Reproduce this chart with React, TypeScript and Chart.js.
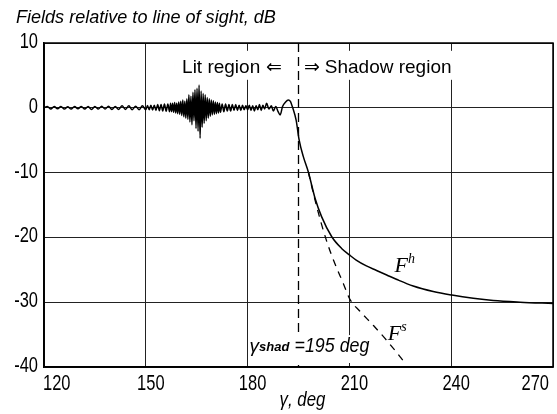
import React, { useEffect, useRef } from "react";
import { Chart, registerables } from "chart.js";

Chart.register(...registerables);

// ---------- data ----------
const xTickValues = [120, 150, 180, 210, 240, 270];
const yTickValues = [10, 0, -10, -20, -30, -40];
const shadowBoundary = 195;

// F^h in the lit region (ripple + interference)
const rippleAngles = [120, 121, 122, 123, 124, 125, 126, 127, 128, 129, 130, 131, 132, 133, 134, 135, 136, 137, 138, 139, 140, 141, 142, 143, 144, 145, 146, 147, 148, 149, 150];
const rippleValues = [0.0, 0.2, -0.2, 0.2, -0.15, 0.2, -0.2, 0.15, -0.2, 0.2, -0.15, 0.2, -0.2, 0.2, -0.25, 0.2, -0.2, 0.25, -0.2, 0.25, -0.25, 0.2, -0.25, 0.3, -0.25, 0.3, -0.3, 0.25, -0.3, 0.3, -0.3];

const growAngles = [150.5, 151, 151.5, 152, 152.5, 153, 153.5, 154, 154.5, 155, 155.5, 156, 156.5, 157];
const growValues = [0.35, -0.3, 0.4, -0.35, 0.4, -0.4, 0.5, -0.45, 0.5, -0.5, 0.6, -0.55, 0.6, -0.6];

const burstAngles = [157.3, 157.6, 157.9, 158.2, 158.5, 158.8, 159.1, 159.4, 159.7, 160, 160.3, 160.6, 160.9, 161.2, 161.5, 161.8, 162.1, 162.4, 162.7, 163, 163.3, 163.6, 163.9, 164.2, 164.5, 164.8, 165.1, 165.4, 165.7, 166, 166.3, 166.6, 166.9, 167.2, 167.5, 167.8, 168.1, 168.4, 168.7, 169, 169.3, 169.6, 169.9, 170.2, 170.5, 170.8, 171.1, 171.4, 171.7];
const burstValues = [0.7, -0.6, 0.7, -0.7, 0.8, -0.8, 0.7, -0.9, 0.9, -1.0, 1.0, -1.2, 1.2, -1.4, 1.0, -1.6, 1.4, -1.8, 2.0, -2.2, 1.8, -2.6, 2.4, -2.0, 2.8, -3.2, 3.0, -3.6, 3.5, -4.7, 2.6, -3.0, 2.2, -2.4, 2.0, -2.0, 1.6, -1.6, 1.4, -1.3, 1.2, -1.1, 1.1, -1.0, 0.9, -0.9, 0.8, -0.8, 0.7];

const tailAngles = [172, 172.5, 173, 173.5, 174, 174.5, 175, 175.5, 176, 176.5, 177, 177.5, 178, 178.5, 179, 179.5, 180, 180.5, 181, 181.5, 182, 182.5, 183, 183.5, 184, 184.5, 185, 185.6, 186.3, 187, 187.6, 188.3, 189, 189.6, 190.3, 191.2, 192, 192.6, 193.3, 194.3];
const tailValues = [-0.7, 0.6, -0.6, 0.6, -0.5, 0.5, -0.5, 0.5, -0.4, 0.5, -0.4, 0.4, -0.4, 0.4, -0.3, 0.3, -0.3, 0.4, -0.4, 0.3, -0.5, 0.3, -0.3, 0.5, -0.4, 0.4, -0.2, 0.7, -0.2, 0.3, -0.5, 0.2, -0.6, -1.1, 0.2, 0.9, 1.2, 1.0, 0.0, -1.9];

// F^h in the shadow region
const fhShadowAngles = [195.2, 196.4, 197.9, 199.9, 201.8, 204.8, 207.7, 210, 212, 215, 218, 221, 224, 228.8, 234.7, 240.2, 246.5, 252.4, 260.3, 270];
const fhShadowValues = [-5.0, -7.5, -9.9, -14.0, -16.8, -19.9, -21.7, -22.7, -23.5, -24.4, -25.1, -25.8, -26.5, -27.5, -28.35, -28.9, -29.4, -29.75, -30.0, -30.2];

// F^s (dashed)
const fsAngles = [197.9, 199.9, 201.8, 203.5, 205.3, 208.2, 210.2, 213.1, 217.1, 221, 224.9, 226.5];
const fsValues = [-9.9, -14.3, -18.0, -20.9, -23.5, -27.1, -29.6, -31.4, -33.6, -35.9, -38.4, -39.5];

// ---------- helpers ----------
const zip = (a: number[], b: number[]) => a.map((v, i) => ({ x: v, y: b[i] }));

const fhData = [
  ...zip(rippleAngles, rippleValues),
  ...zip(growAngles, growValues),
  ...zip(burstAngles, burstValues),
  ...zip(tailAngles, tailValues),
  ...zip(fhShadowAngles, fhShadowValues),
];
const fsData = zip(fsAngles, fsValues);

const SANS = '"Liberation Sans", Arial, sans-serif';
const SERIF = '"Liberation Serif", "DejaVu Serif", serif';

function squeezeText(ctx: any, text: string, x: number, y: number, align: string, k: number) {
  ctx.save();
  ctx.translate(x, y);
  ctx.scale(k, 1);
  ctx.textAlign = align;
  ctx.fillText(text, 0, 0);
  ctx.restore();
}

function whiteBox(ctx: any, x0: number, y0: number, x1: number, y1: number) {
  ctx.save();
  ctx.fillStyle = "#fff";
  ctx.fillRect(x0, y0, x1 - x0, y1 - y0);
  ctx.restore();
}

const annotationPlugin = {
  id: "annotations",
  afterDraw(chart: any) {
    const { ctx, chartArea: a, scales } = chart;
    const x = scales.x;
    const y = scales.y;
    ctx.save();

    ctx.fillStyle = "#000";
    const xs = x.getPixelForValue(shadowBoundary);

    // Lit / Shadow region labels (on white boxes)
    const yr = y.getPixelForValue(5.4);
    ctx.font = `19px ${SANS}`;
    ctx.textBaseline = "alphabetic";
    const litText = "Lit region \u21D0";
    const shText = "\u21D2 Shadow region";
    const litW = ctx.measureText(litText).width;
    const shW = ctx.measureText(shText).width;
    whiteBox(ctx, xs - 17 - litW - 2, yr - 22, xs - 15, yr + 7);
    whiteBox(ctx, xs + 3, yr - 22, xs + 5 + shW + 1, yr + 7);
    ctx.textAlign = "right";
    ctx.fillText(litText, xs - 17, yr);
    ctx.textAlign = "left";
    ctx.fillText(shText, xs + 5, yr);

    // gamma_shad label (on white box)
    const yb = y.getPixelForValue(-37.7);
    const gx = x.getPixelForValue(180) + 2;
    whiteBox(ctx, gx, yb - 17, xs + 74, a.bottom - 4);
    ctx.textAlign = "left";
    ctx.font = `italic 19px ${SANS}`;
    ctx.fillText("\u03B3", gx, yb);
    const gw = ctx.measureText("\u03B3").width;
    ctx.font = `italic bold 13px ${SANS}`;
    ctx.fillText("shad", gx + gw, yb - 1);
    ctx.font = `italic 21px ${SANS}`;
    squeezeText(ctx, "=195 deg", xs - 4, yb, "left", 0.85);

    // frame
    ctx.strokeStyle = "#000";
    ctx.lineWidth = 1.5;
    ctx.strokeRect(a.left, a.top, a.right - a.left, a.bottom - a.top);

    // tick labels (narrow face)
    ctx.fillStyle = "#000";
    ctx.font = `22px ${SANS}`;
    ctx.textBaseline = "middle";
    yTickValues.forEach((v) => {
      squeezeText(ctx, String(v), a.left - 6, y.getPixelForValue(v) - 1, "right", 0.75);
    });
    ctx.textBaseline = "alphabetic";
    const base = a.bottom + 23;
    xTickValues.forEach((v, i) => {
      const px = x.getPixelForValue(v);
      if (i === 0) squeezeText(ctx, String(v), px - 1, base, "left", 0.75);
      else if (i === xTickValues.length - 1) squeezeText(ctx, String(v), px - 4, base, "right", 0.75);
      else squeezeText(ctx, String(v), px + 5, base, "center", 0.75);
    });

    // x axis title
    ctx.font = `italic 21px ${SANS}`;
    squeezeText(ctx, "\u03B3, deg", (a.left + a.right) / 2 + 4, a.bottom + 39, "center", 0.8);

    // chart title (y-axis caption)
    ctx.font = `italic 19px ${SANS}`;
    squeezeText(ctx, "Fields relative to line of sight, dB", 16, 23, "left", 0.95);

    // F^h
    ctx.textAlign = "left";
    ctx.font = `italic 22px ${SERIF}`;
    const fhx = x.getPixelForValue(223.3);
    const fhy = y.getPixelForValue(-25.4);
    ctx.fillText("F", fhx, fhy);
    let fw = ctx.measureText("F").width;
    ctx.font = `italic 14px ${SERIF}`;
    ctx.fillText("h", fhx + fw, fhy - 9);

    // F^s
    ctx.font = `italic 22px ${SERIF}`;
    const fsx = x.getPixelForValue(221.3);
    const fsy = y.getPixelForValue(-35.9);
    ctx.fillText("F", fsx, fsy);
    fw = ctx.measureText("F").width;
    ctx.font = `italic 14px ${SERIF}`;
    ctx.fillText("s", fsx + fw, fsy - 9);

    ctx.restore();
  },
};

export default function App() {
  const ref = useRef<HTMLCanvasElement | null>(null);

  useEffect(() => {
    if (!ref.current) return;
    Chart.defaults.font.family = SANS;
    const chart = new Chart(ref.current, {
      type: "line",
      data: {
        datasets: [
          {
            label: "Fh",
            data: fhData,
            borderColor: "#000",
            borderWidth: 1.5,
            pointRadius: 0,
            fill: false,
            cubicInterpolationMode: "monotone",
            order: 1,
          },
          {
            label: "Fs",
            data: fsData,
            borderColor: "#000",
            borderWidth: 1.3,
            borderDash: [7, 6],
            pointRadius: 0,
            fill: false,
            cubicInterpolationMode: "monotone",
            order: 2,
          },
          {
            label: "shadow boundary",
            data: [
              { x: shadowBoundary, y: yTickValues[0] },
              { x: shadowBoundary, y: yTickValues[yTickValues.length - 1] },
            ],
            borderColor: "#000",
            borderWidth: 1.3,
            borderDash: [9, 5],
            pointRadius: 0,
            fill: false,
            order: 3,
          },
        ],
      },
      options: {
        responsive: false,
        animation: false,
        devicePixelRatio: 1,
        layout: { padding: { top: 43, right: 4, left: 0, bottom: 0 } },
        plugins: {
          legend: { display: false },
          tooltip: { enabled: false },
          title: { display: false },
        },
        scales: {
          x: {
            type: "linear",
            min: xTickValues[0],
            max: xTickValues[xTickValues.length - 1],
            afterBuildTicks: (s: any) => {
              s.ticks = xTickValues.map((v) => ({ value: v }));
            },
            afterFit: (s: any) => {
              s.height = 47;
            },
            grid: { color: "#222", lineWidth: 1, drawTicks: false },
            border: { display: true, color: "#000", width: 1.5 },
            ticks: { display: false },
            title: { display: false },
          },
          y: {
            type: "linear",
            min: yTickValues[yTickValues.length - 1],
            max: yTickValues[0],
            afterBuildTicks: (s: any) => {
              s.ticks = yTickValues.map((v) => ({ value: v }));
            },
            afterFit: (s: any) => {
              s.width = 44;
            },
            grid: { color: "#222", lineWidth: 1, drawTicks: false },
            border: { display: true, color: "#000", width: 1.5 },
            ticks: { display: false },
          },
        },
      },
      plugins: [annotationPlugin],
    } as any);
    return () => chart.destroy();
  }, []);

  return (
    <div style={{ position: "absolute", left: 0, top: 0, width: 557, height: 414, background: "#fff" }}>
      <canvas ref={ref} width={557} height={414} style={{ display: "block", width: 557, height: 414 }} />
    </div>
  );
}
